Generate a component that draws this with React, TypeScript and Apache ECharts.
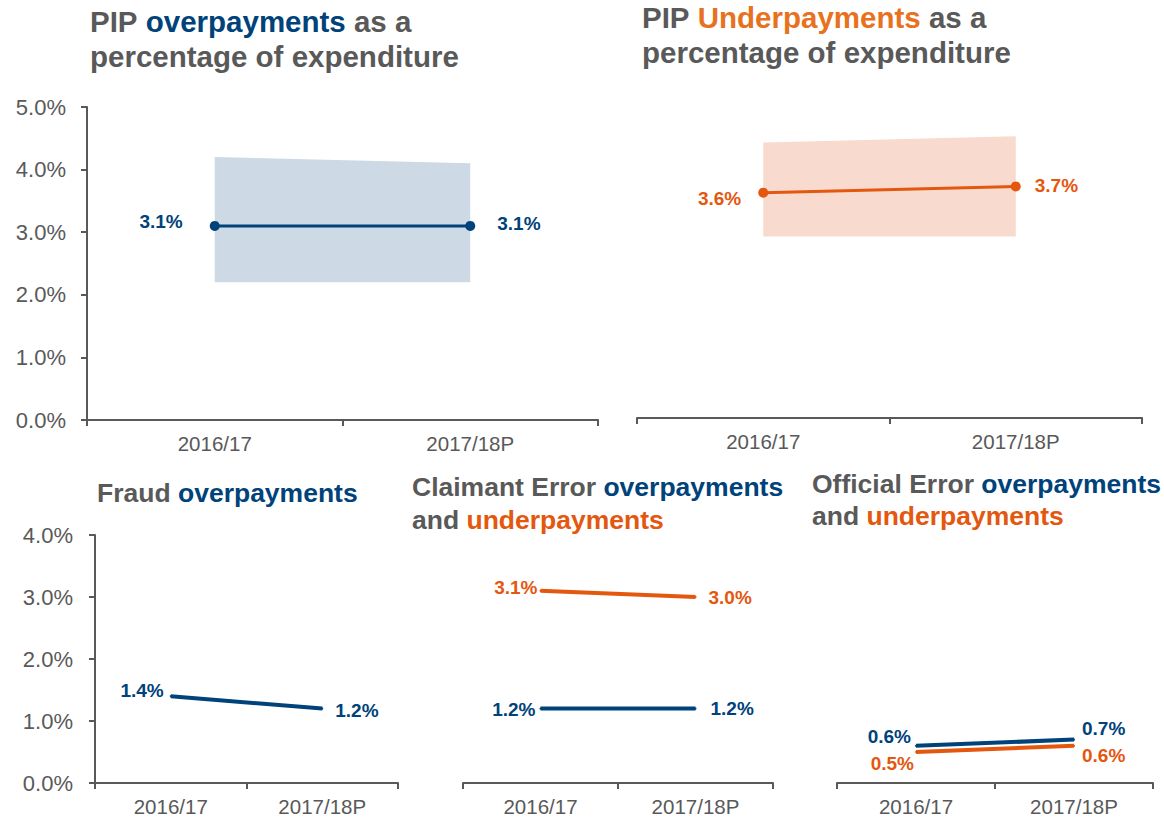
import React, { useEffect, useRef } from 'react';
import * as echarts from 'echarts';

const categories = ['2016/17', '2017/18P'];
const pipOver = [3.1, 3.1];
const pipOverLow = [2.2, 2.2];
const pipOverHigh = [4.2, 4.1];
const pipUnder = [3.6, 3.7];
const pipUnderLow = [2.9, 2.9];
const pipUnderHigh = [4.4, 4.5];
const fraudOver = [1.4, 1.2];
const claimantOver = [1.2, 1.2];
const claimantUnder = [3.1, 3.0];
const officialOver = [0.6, 0.7];
const officialUnder = [0.5, 0.6];
const topAxisMax = 5;
const bottomAxisMax = 4;

const FONT = '"Liberation Sans", Arial, sans-serif';
const GREY = '#595959';
const BLUE = '#00427A';
const ORANGE = '#E4570F';
const ORANGE_T = '#E8711E';
const BAND_BLUE = '#CDD9E5';
const BAND_ORANGE = '#F8DBCE';

const pct = (v: number) => v.toFixed(1) + '%';

type LP = { pos: 'left' | 'right'; dist: number; dy: number };

function lineSeries(idx: number, values: number[], color: string, width: number, symSize: number, lps: LP[]) {
  return {
    type: 'line',
    xAxisIndex: idx,
    yAxisIndex: idx,
    z: 5,
    symbol: 'circle',
    symbolSize: symSize,
    showSymbol: true,
    itemStyle: { color },
    lineStyle: { color, width },
    data: values.map((v, i) => ({
      value: v,
      label: { position: lps[i].pos, distance: lps[i].dist, offset: [0, lps[i].dy] },
    })),
    label: {
      show: true,
      formatter: (p: any) => pct(Number(p.value)),
      color,
      fontFamily: FONT,
      fontWeight: 'bold',
      fontSize: 19,
    },
  };
}

function bandSeries(idx: number, low: number[], high: number[], color: string) {
  return [
    {
      type: 'line', xAxisIndex: idx, yAxisIndex: idx, stack: 'band' + idx, symbol: 'none', silent: true,
      lineStyle: { opacity: 0 }, data: low,
    },
    {
      type: 'line', xAxisIndex: idx, yAxisIndex: idx, stack: 'band' + idx, symbol: 'none', silent: true,
      lineStyle: { opacity: 0 }, areaStyle: { color, opacity: 1 },
      data: high.map((h, i) => h - low[i]),
    },
  ];
}

const grids = [
  { left: 87, top: 107, width: 511, height: 313 },
  { left: 637, top: 105, width: 505, height: 313 },
  { left: 95, top: 535, width: 303, height: 248 },
  { left: 463, top: 535, width: 310, height: 248 },
  { left: 837, top: 535, width: 316, height: 248 },
];

export default function App() {
  const ref = useRef<HTMLDivElement>(null);
  useEffect(() => {
    if (!ref.current) return;
    const chart = echarts.init(ref.current, null, { renderer: 'svg' });
    const axisLineStyle = { color: GREY, width: 2 };
    const xAxis = grids.map((_, i) => ({
      type: 'category',
      gridIndex: i,
      data: categories,
      boundaryGap: true,
      axisLine: { show: true, lineStyle: axisLineStyle },
      axisTick: { show: true, length: 6, lineStyle: axisLineStyle },
      axisLabel: { color: GREY, fontSize: 20.5, fontFamily: FONT, margin: 13 },
    }));
    const yAxis = grids.map((_, i) => ({
      type: 'value',
      gridIndex: i,
      min: 0,
      max: i < 2 ? topAxisMax : bottomAxisMax,
      interval: 1,
      show: i === 0 || i === 2,
      splitLine: { show: false },
      axisLine: { show: true, lineStyle: axisLineStyle },
      axisTick: { show: true, length: 6, lineStyle: axisLineStyle },
      axisLabel: { color: GREY, fontSize: 22, fontFamily: FONT, margin: i === 0 ? 21 : 22, formatter: (v: number) => pct(v) },
    }));

    const rich = (size: number, lh: number) => ({
      g: { color: GREY, fontWeight: 'bold', fontSize: size, fontFamily: FONT, lineHeight: lh },
      b: { color: BLUE, fontWeight: 'bold', fontSize: size, fontFamily: FONT, lineHeight: lh },
      o: { color: ORANGE, fontWeight: 'bold', fontSize: size, fontFamily: FONT, lineHeight: lh },
      t: { color: ORANGE_T, fontWeight: 'bold', fontSize: size, fontFamily: FONT, lineHeight: lh },
    });

    const option: any = {
      animation: false,
      backgroundColor: '#ffffff',
      title: [
        { left: 90, top: 4, padding: 0, text: '{g|PIP }{b|overpayments}{g| as a}\n{g|percentage of expenditure}', textStyle: { rich: rich(29.5, 35) } },
        { left: 642, top: 0, padding: 0, text: '{g|PIP }{t|Underpayments}{g| as a}\n{g|percentage of expenditure}', textStyle: { rich: rich(29.5, 35) } },
        { left: 97, top: 477, padding: 0, text: '{g|Fraud }{b|overpayments}', textStyle: { rich: rich(26.5, 32) } },
        { left: 412, top: 470, padding: 0, text: '{g|Claimant Error }{b|overpayments}\n{g|and }{o|underpayments}', textStyle: { rich: rich(26.5, 33) } },
        { left: 812, top: 468, padding: 0, text: '{g|Official Error }{b|overpayments}\n{g|and }{o|underpayments}', textStyle: { rich: rich(26.5, 32) } },
      ],
      grid: grids,
      xAxis,
      yAxis,
      series: [
        ...bandSeries(0, pipOverLow, pipOverHigh, BAND_BLUE),
        lineSeries(0, pipOver, BLUE, 3, 10, [
          { pos: 'left', dist: 27, dy: -4 },
          { pos: 'right', dist: 22, dy: -2 },
        ]),
        ...bandSeries(1, pipUnderLow, pipUnderHigh, BAND_ORANGE),
        lineSeries(1, pipUnder, ORANGE, 3, 10, [
          { pos: 'left', dist: 17, dy: 6 },
          { pos: 'right', dist: 14, dy: -1 },
        ]),
        lineSeries(2, fraudOver, BLUE, 4, 2, [
          { pos: 'left', dist: 6, dy: -6 },
          { pos: 'right', dist: 12, dy: 2 },
        ]),
        lineSeries(3, claimantUnder, ORANGE, 4, 2, [
          { pos: 'left', dist: 2, dy: -3 },
          { pos: 'right', dist: 12, dy: 0 },
        ]),
        lineSeries(3, claimantOver, BLUE, 4, 2, [
          { pos: 'left', dist: 4, dy: 1 },
          { pos: 'right', dist: 14, dy: 0 },
        ]),
        lineSeries(4, officialOver, BLUE, 4, 2, [
          { pos: 'left', dist: 4, dy: -9 },
          { pos: 'right', dist: 7, dy: -11 },
        ]),
        lineSeries(4, officialUnder, ORANGE, 4, 2, [
          { pos: 'left', dist: 1, dy: 11 },
          { pos: 'right', dist: 7, dy: 10 },
        ]),
      ],
    };
    chart.setOption(option);
    return () => chart.dispose();
  }, []);
  return <div ref={ref} style={{ position: 'fixed', left: 0, top: 0, width: 1164, height: 818 }} />;
}
